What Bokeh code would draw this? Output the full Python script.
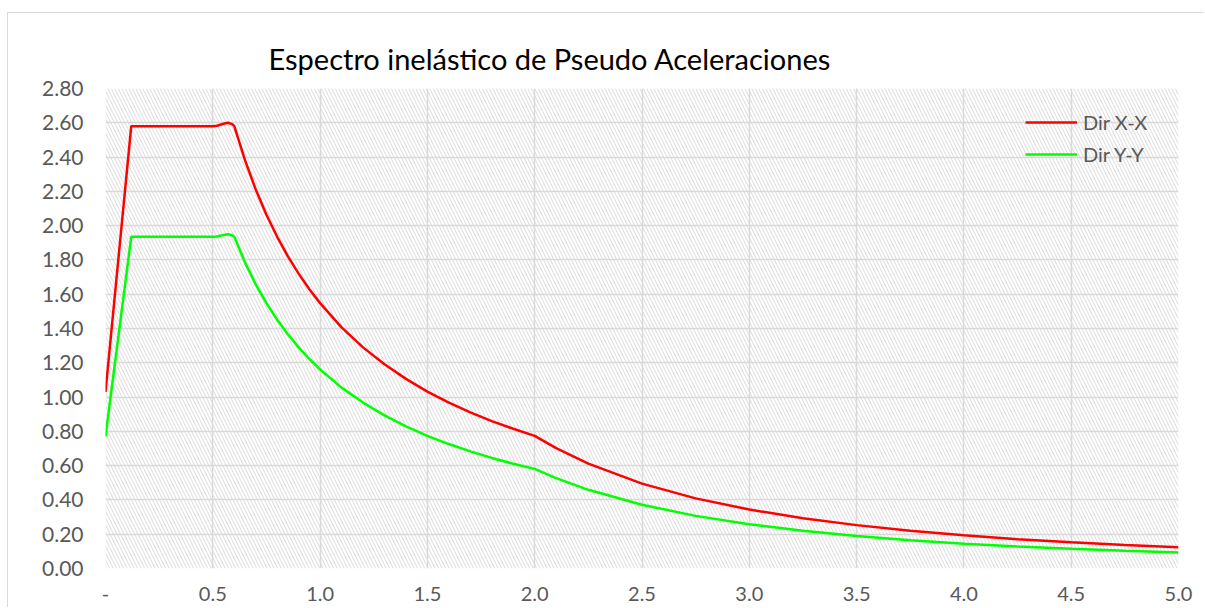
from bokeh.plotting import figure
from bokeh.models import (FixedTicker, Range1d, BoxAnnotation, Legend, LegendItem, Title)
from bokeh.embed import file_html
from bokeh.resources import INLINE

# Period T (s)
T = [0.00, 0.12, 0.20, 0.30, 0.40, 0.50, 0.52, 0.55, 0.57, 0.59, 0.60, 0.65, 0.70,
     0.75, 0.80, 0.85, 0.90, 0.95, 1.00, 1.10, 1.20, 1.30, 1.40, 1.50, 1.60, 1.70,
     1.80, 1.90, 2.00, 2.10, 2.25, 2.50, 2.75, 3.00, 3.25, 3.50, 3.75, 4.00, 4.25,
     4.50, 4.75, 5.00]
# Sa Dir X-X
sa_x = [1.03, 2.58, 2.58, 2.58, 2.58, 2.58, 2.583, 2.594, 2.60, 2.592, 2.58, 2.382, 2.211,
        2.064, 1.935, 1.821, 1.720, 1.629, 1.548, 1.407, 1.290, 1.191, 1.106, 1.032, 0.968, 0.911,
        0.860, 0.815, 0.774, 0.702, 0.612, 0.495, 0.409, 0.344, 0.293, 0.253, 0.220, 0.194, 0.171,
        0.153, 0.137, 0.124]
# Sa Dir Y-Y
sa_y = [0.77, 1.935, 1.935, 1.935, 1.935, 1.935, 1.937, 1.946, 1.95, 1.944, 1.935, 1.786, 1.658,
        1.548, 1.451, 1.366, 1.290, 1.222, 1.161, 1.055, 0.968, 0.893, 0.829, 0.774, 0.726, 0.683,
        0.645, 0.611, 0.581, 0.527, 0.459, 0.372, 0.307, 0.258, 0.220, 0.190, 0.165, 0.145, 0.128,
        0.115, 0.103, 0.093]

x_ticks = [0.0, 0.5, 1.0, 1.5, 2.0, 2.5, 3.0, 3.5, 4.0, 4.5, 5.0]
x_labels = ["-", "0.5", "1.0", "1.5", "2.0", "2.5", "3.0", "3.5", "4.0", "4.5", "5.0"]
y_ticks = [0.0, 0.2, 0.4, 0.6, 0.8, 1.0, 1.2, 1.4, 1.6, 1.8, 2.0, 2.2, 2.4, 2.6, 2.8]
y_labels = ["%.2f" % v for v in y_ticks]
title_text = "Espectro inelástico de Pseudo Aceleraciones"
series_names = ["Dir X-X", "Dir Y-Y"]

FONT = "Lato"
GRAY = "#595959"

p = figure(width=1197, height=595, output_backend="svg", toolbar_location=None,
           x_range=Range1d(0, 5), y_range=Range1d(0, 2.8),
           min_border_left=97, min_border_right=27, min_border_top=75, min_border_bottom=40)
p.styles = {"margin-left": "7px", "margin-top": "12px",
            "border-top": "1px solid #d9d9d9", "border-left": "1px solid #d9d9d9"}
p.outline_line_color = None
p.background_fill_color = "white"

# hatched plot area
p.add_layout(BoxAnnotation(fill_color=None, line_color=None, hatch_pattern="\\",
                           hatch_color="#dadada", hatch_scale=7, hatch_weight=1, level="underlay"))

for ax in (p.xaxis[0], p.yaxis[0]):
    ax.axis_line_color = None
    ax.major_tick_line_color = None
    ax.minor_tick_line_color = None
    ax.major_label_text_font = FONT
    ax.major_label_text_font_size = "21px"
    ax.major_label_text_color = GRAY

p.xaxis.ticker = FixedTicker(ticks=x_ticks)
p.xaxis.major_label_overrides = {t: l for t, l in zip(x_ticks, x_labels)}
p.xaxis.major_label_text_font_size = "20px"
p.xaxis.major_label_standoff = 12
p.yaxis.ticker = FixedTicker(ticks=y_ticks)
p.yaxis.major_label_overrides = {t: l for t, l in zip(y_ticks, y_labels)}
p.yaxis.major_label_standoff = 16

p.xgrid.ticker = FixedTicker(ticks=x_ticks)
p.ygrid.ticker = FixedTicker(ticks=y_ticks)
for g in (p.xgrid[0], p.ygrid[0]):
    g.grid_line_color = "#d9d9d9"
    g.grid_line_width = 1.5

r1 = p.line(T, sa_x, line_color="#ff0000", line_width=2.5)
r2 = p.line(T, sa_y, line_color="#00ff00", line_width=2.5)

legend = Legend(items=[LegendItem(label=series_names[0], renderers=[r1]),
                       LegendItem(label=series_names[1], renderers=[r2])],
                location=(920, 402), background_fill_alpha=0, border_line_color=None,
                glyph_width=52, glyph_height=20, label_standoff=6, spacing=8,
                padding=0, margin=0, label_text_font=FONT, label_text_font_size="20px",
                label_text_color=GRAY)
p.add_layout(legend)

t = Title(text=title_text, text_font=FONT, text_font_size="29px", text_font_style="normal",
          text_color="black", align="left", offset=163, standoff=25)
p.add_layout(t, "above")

open("out.html", "w").write(file_html(p, INLINE))
